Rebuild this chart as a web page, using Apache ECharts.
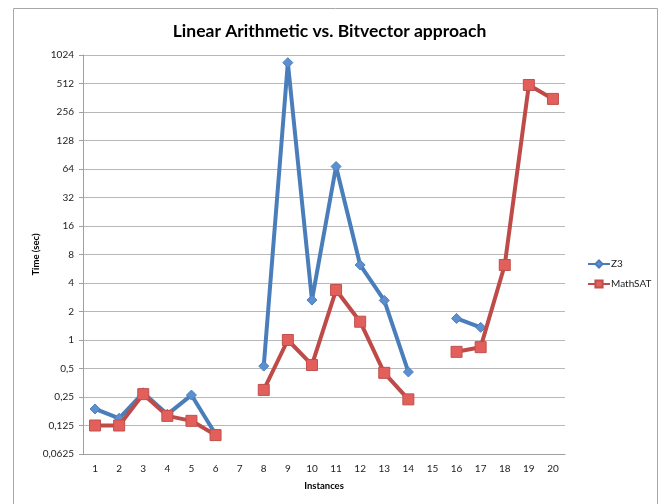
<!DOCTYPE html>
<html>
<head>
<meta charset="utf-8">
<script src="https://cdn.jsdelivr.net/npm/echarts@6/dist/echarts.min.js"></script>
<style>html,body{margin:0;padding:0;background:#fff}#c{width:659px;height:504px}</style>
</head>
<body>
<div id="c"></div>
<script>
const categories = ['1','2','3','4','5','6','7','8','9','10','11','12','13','14','15','16','17','18','19','20'];
const z3 = [0.187, 0.149, 0.277, 0.164, 0.262, 0.101, null, 0.53, 850, 2.64, 68, 6.2, 2.62, 0.46, null, 1.69, 1.36, null, null, null];
const mathsat = [0.125, 0.125, 0.268, 0.158, 0.14, 0.099, null, 0.297, 1.0, 0.545, 3.37, 1.56, 0.45, 0.236, null, 0.75, 0.84, 6.2, 494, 352];
const yTicks = [0.0625, 0.125, 0.25, 0.5, 1, 2, 4, 8, 16, 32, 64, 128, 256, 512, 1024];

const chart = echarts.init(document.getElementById('c'));
const font = 'Lato, "Open Sans", sans-serif';
chart.setOption({
  animation: false,
  title: {
    text: 'Linear Arithmetic vs. Bitvector approach',
    left: 'center', top: 17,
    textStyle: { fontFamily: font, fontWeight: 'bold', fontSize: 17.5, color: '#000' }
  },
  graphic: [{
    type: 'rect', shape: { x: 13.5, y: 8.5, width: 644, height: 520 },
    style: { fill: 'none', stroke: '#a8a8a8', lineWidth: 1 }, silent: true, z: -1
  }],
  legend: {
    orient: 'vertical', left: 582, top: 254, itemGap: 10, itemWidth: 22, itemHeight: 9,
    textStyle: { fontFamily: font, fontSize: 10, color: '#222', padding: [0,0,0,-4] },
    data: ['Z3', 'MathSAT']
  },
  grid: { left: 83, right: 94, top: 55, bottom: 50, containLabel: false },
  xAxis: {
    type: 'category', data: categories, boundaryGap: true,
    name: 'Instances', nameLocation: 'middle', nameGap: 27, nameMoveOverlap: false,
    nameTextStyle: { fontFamily: font, fontWeight: 'bold', fontSize: 9.5, color: '#000' },
    axisLine: { lineStyle: { color: '#a0a0a0', width: 1 } },
    axisTick: { alignWithLabel: true, length: 4, lineStyle: { color: '#a0a0a0' } },
    axisLabel: { fontFamily: font, fontSize: 10, color: '#222', margin: 10, interval: 0 },
    splitLine: { show: false }
  },
  yAxis: {
    type: 'log', logBase: 2, min: 0.0625, max: 1024, interval: 1,
    name: 'Time (sec)', nameLocation: 'middle', nameGap: 42, nameRotate: 90, nameMoveOverlap: false,
    nameTextStyle: { fontFamily: font, fontWeight: 'bold', fontSize: 9.5, color: '#000' },
    axisLine: { show: true, lineStyle: { color: '#a0a0a0', width: 1 } },
    axisTick: { show: true, length: 4, inside: false, lineStyle: { color: '#a0a0a0' } },
    axisLabel: {
      fontFamily: font, fontSize: 10, color: '#222', margin: 9,
      formatter: v => {
        const t = yTicks.find(k => Math.abs(k - v) / k < 1e-6);
        return String(t !== undefined ? t : v).replace('.', ',');
      }
    },
    splitLine: { show: true, lineStyle: { color: '#b8b8b8', width: 1 } }
  },
  series: [
    {
      name: 'Z3', type: 'line', data: z3, connectNulls: false,
      symbol: 'diamond', symbolSize: 10,
      lineStyle: { color: '#4a7ebb', width: 4 },
      itemStyle: { color: '#5b8fd0', borderColor: '#4a7ebb', borderWidth: 1 },
      z: 2
    },
    {
      name: 'MathSAT', type: 'line', data: mathsat, connectNulls: false,
      symbol: 'rect', symbolSize: 11,
      lineStyle: { color: '#be4b48', width: 4 },
      itemStyle: { color: '#e35f5c', borderColor: '#c0504d', borderWidth: 1 },
      z: 3
    }
  ]
});
</script>
</body>
</html>
